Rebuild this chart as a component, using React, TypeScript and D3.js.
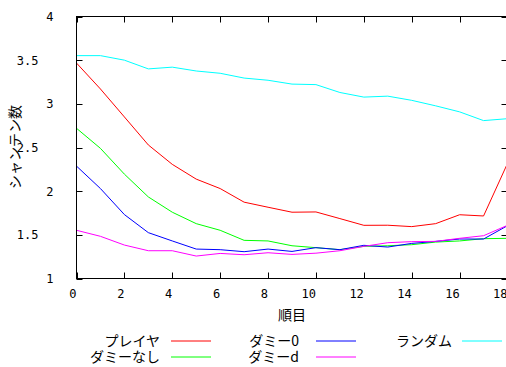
import React from "react";
import * as d3 from "d3";

const xs = [0, 1, 2, 3, 4, 5, 6, 7, 8, 9, 10, 11, 12, 13, 14, 15, 16, 17, 18];
const player = [3.467, 3.17, 2.85, 2.529, 2.307, 2.138, 2.03, 1.874, 1.816, 1.759, 1.762, 1.686, 1.609, 1.61, 1.594, 1.628, 1.73, 1.716, 2.318];
const noDummy = [2.72, 2.49, 2.195, 1.934, 1.759, 1.628, 1.552, 1.437, 1.43, 1.375, 1.353, 1.33, 1.368, 1.375, 1.387, 1.417, 1.43, 1.456, 1.46];
const dummy0 = [2.287, 2.03, 1.732, 1.525, 1.43, 1.337, 1.33, 1.307, 1.337, 1.31, 1.353, 1.33, 1.38, 1.36, 1.402, 1.425, 1.452, 1.452, 1.605];
const dummyD = [1.552, 1.483, 1.383, 1.318, 1.318, 1.257, 1.287, 1.272, 1.295, 1.276, 1.29, 1.318, 1.368, 1.41, 1.422, 1.425, 1.46, 1.49, 1.609];
const random = [3.552, 3.552, 3.5, 3.4, 3.42, 3.376, 3.35, 3.295, 3.27, 3.226, 3.22, 3.13, 3.077, 3.088, 3.04, 2.977, 2.908, 2.808, 2.83];

const xTicks = [0, 2, 4, 6, 8, 10, 12, 14, 16, 18];
const yTicks = [1, 1.5, 2, 2.5, 3, 3.5, 4];
const xTitle = "順目";
const yTitle = "シャンテン数";

const seriesNames = ["プレイヤ", "ダミーなし", "ダミー0", "ダミーd", "ランダム"];
const seriesColors = ["#ff0000", "#00ff00", "#0000ff", "#ff00ff", "#00ffff"];
const seriesData = [player, noDummy, dummy0, dummyD, random];

const NUM_FONT = "'DejaVu Sans Mono', 'Liberation Mono', monospace";
const JP_FONT = "'Noto Sans CJK JP', 'Noto Sans', sans-serif";

export default function App() {
  const W = 506;
  const H = 367;
  const left = 76.5;
  const right = 507.5;
  const top = 16.5;
  const bottom = 278.5;
  const x = d3.scaleLinear().domain([0, 18]).range([left, right]);
  const y = d3.scaleLinear().domain([1, 4]).range([bottom, top]);
  const line = d3
    .line<number>()
    .x((_, i) => x(xs[i]))
    .y((d) => y(d));

  const legendPos = [
    { col: 0, row: 0 },
    { col: 0, row: 1 },
    { col: 1, row: 0 },
    { col: 1, row: 1 },
    { col: 2, row: 0 },
  ];
  const colTextEnd = [160, 299, 452];
  const colLineStart = [171, 316, 462];
  const lineLen = 40;
  const rowY = [341, 357];

  const tickLen = 6;

  return (
    <svg
      width={W}
      height={H}
      style={{ position: "absolute", left: 0, top: 0, background: "#fff" }}
    >
      <rect x={0} y={0} width={W} height={H} fill="#fff" />
      {seriesData.map((s, i) => (
        <path key={i} d={line(s) || ""} fill="none" stroke={seriesColors[i]} strokeWidth={1} />
      ))}
      <rect x={left} y={top} width={right - left} height={bottom - top} fill="none" stroke="#000" strokeWidth={1} />
      {xTicks.map((t) => (
        <g key={"xt" + t}>
          <line x1={Math.round(x(t)) + 0.5} x2={Math.round(x(t)) + 0.5} y1={bottom} y2={bottom - tickLen} stroke="#000" />
          <line x1={Math.round(x(t)) + 0.5} x2={Math.round(x(t)) + 0.5} y1={top} y2={top + tickLen} stroke="#000" />
          <text x={x(t)} y={298} textAnchor="end" fontSize={12} fontFamily={NUM_FONT} fill="#000">
            {String(t)}
          </text>
        </g>
      ))}
      {yTicks.map((t) => (
        <g key={"yt" + t}>
          <line x1={left} x2={left + tickLen} y1={Math.round(y(t)) + 0.5} y2={Math.round(y(t)) + 0.5} stroke="#000" />
          <line x1={right} x2={right - tickLen} y1={Math.round(y(t)) + 0.5} y2={Math.round(y(t)) + 0.5} stroke="#000" />
          <text
            x={Number.isInteger(t) ? 53.5 : 38.5}
            y={y(t) + 4.5}
            textAnchor="end"
            fontSize={12}
            fontFamily={NUM_FONT}
            fill="#000"
          >
            {String(t)}
          </text>
        </g>
      ))}
      <text x={(left + right) / 2} y={320} textAnchor="middle" fontSize={14} fontFamily={JP_FONT} fill="#000">
        {xTitle}
      </text>
      <text
        transform={`translate(20,147) rotate(-90)`}
        textAnchor="middle"
        fontSize={14}
        fontFamily={JP_FONT}
        fill="#000"
      >
        {yTitle}
      </text>
      {seriesNames.map((n, i) => {
        const p = legendPos[i];
        const yy = rowY[p.row];
        return (
          <g key={"lg" + i}>
            <text x={colTextEnd[p.col]} y={yy + 5} textAnchor="end" fontSize={14} fontFamily={JP_FONT} fill="#000">
              {n}
            </text>
            <line
              x1={colLineStart[p.col]}
              x2={colLineStart[p.col] + lineLen}
              y1={yy}
              y2={yy}
              stroke={seriesColors[i]}
              strokeWidth={1}
            />
          </g>
        );
      })}
    </svg>
  );
}
